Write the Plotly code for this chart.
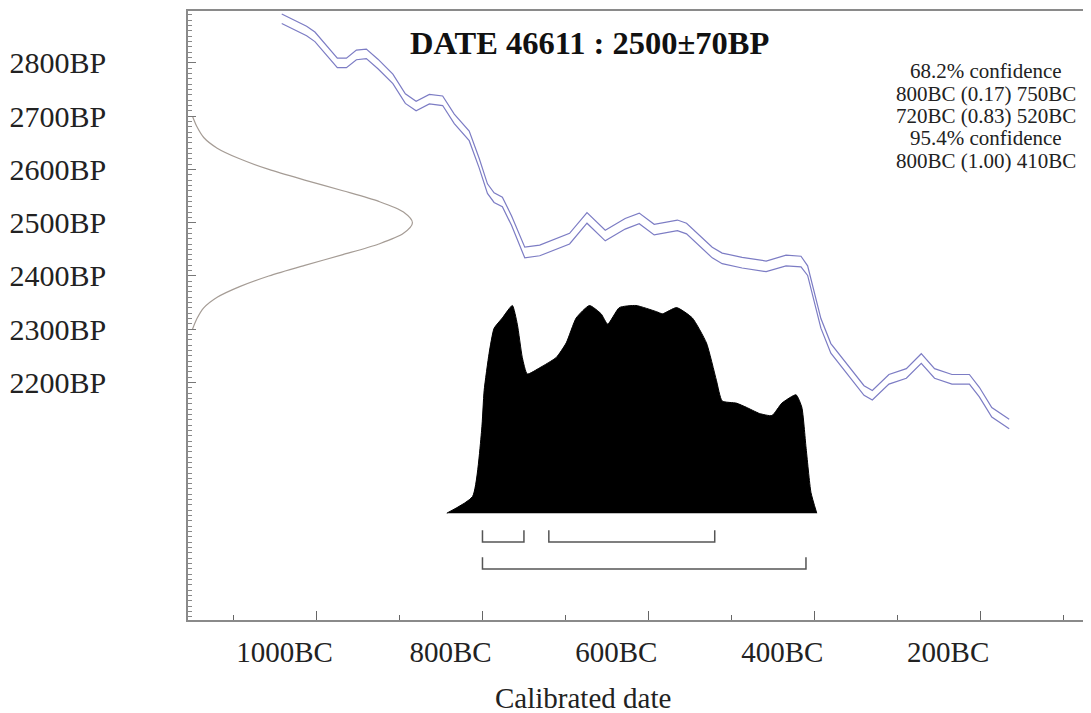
import plotly.graph_objects as go

# calibration curve (IntCal section), years BC and radiocarbon age BP with 1-sigma
cal_years_bc = [1042, 1012, 1002, 975, 964, 952, 940, 926, 908, 893, 880, 864, 848, 834,
                816, 804, 794, 786, 776, 765, 749, 731, 695, 674, 652, 628, 611, 593,
                565, 554, 523, 511, 487, 458, 434, 416, 408, 402, 392, 380, 364, 340,
                330, 310, 289, 271, 255, 234, 213, 201, 186, 165]
cal_bp = [2883, 2860, 2849, 2800, 2800, 2815, 2817, 2798, 2770, 2733, 2719, 2732, 2729, 2695,
          2663, 2612, 2564, 2547, 2539, 2504, 2444, 2448, 2470, 2509, 2476, 2498, 2508, 2487,
          2495, 2489, 2444, 2433, 2425, 2418, 2429, 2427, 2410, 2373, 2311, 2264, 2232, 2185,
          2176, 2206, 2217, 2245, 2217, 2206, 2206, 2182, 2144, 2122]
cal_err = [9, 9, 9, 9, 9, 9, 9, 9, 9, 9, 9, 9, 9, 9,
           9, 9, 9, 9, 9, 9, 10, 10, 10, 10, 10, 10, 10, 10,
           10, 10, 10, 10, 10, 10, 10, 10, 9, 9, 9, 9, 9, 9,
           9, 9, 9, 9, 9, 9, 9, 9, 9, 9]

# measured date 2500 +/- 70 BP (relative probability)
gauss_bp = [2300, 2320, 2340, 2360, 2380, 2400, 2420, 2440, 2460, 2480, 2500,
            2520, 2540, 2560, 2580, 2600, 2620, 2640, 2660, 2680, 2700]
gauss_p = [0.02, 0.04, 0.07, 0.13, 0.23, 0.36, 0.52, 0.69, 0.85, 0.96, 1.0,
           0.96, 0.85, 0.69, 0.52, 0.36, 0.23, 0.13, 0.07, 0.04, 0.02]

# calibrated probability distribution
hist_years_bc = [843, 812, 801, 798, 792, 786, 776, 764, 758, 752, 746, 731, 711, 699, 687,
                 671, 657, 649, 635, 615, 590, 583, 566, 547, 530, 518, 511, 494, 482, 466,
                 451, 439, 422, 415, 410, 404, 397]
hist_prob = [0.0, 0.08, 0.40, 0.59, 0.77, 0.89, 0.94, 1.0, 0.91, 0.75, 0.67, 0.70, 0.75, 0.82, 0.94,
             1.0, 0.96, 0.91, 0.99, 1.0, 0.97, 0.96, 0.99, 0.94, 0.82, 0.64, 0.54, 0.53, 0.51, 0.48,
             0.47, 0.53, 0.57, 0.51, 0.32, 0.10, 0.0]

ranges_68 = [(800, 750), (720, 520)]
ranges_95 = [(800, 410)]

x_tick_years = [1000, 800, 600, 400, 200]
x_minor_years = [1100, 900, 700, 500, 300, 100]
y_tick_bp = [2200, 2300, 2400, 2500, 2600, 2700, 2800]

conf_lines = ["68.2% confidence", "800BC (0.17) 750BC", "720BC (0.83) 520BC",
              "95.4% confidence", "800BC (1.00) 410BC"]

SERIF = "Liberation Serif, Times New Roman, serif"
curve_col = "#7c7cc4"

fig = go.Figure()

# calibration curve: upper and lower bands
fig.add_trace(go.Scatter(x=[-y for y in cal_years_bc], y=[b + e for b, e in zip(cal_bp, cal_err)],
                         mode="lines", line=dict(color=curve_col, width=1.2)))
fig.add_trace(go.Scatter(x=[-y for y in cal_years_bc], y=[b - e for b, e in zip(cal_bp, cal_err)],
                         mode="lines", line=dict(color=curve_col, width=1.2)))

# radiocarbon date distribution on the left
fig.add_trace(go.Scatter(x=gauss_p, y=gauss_bp, xaxis="x2", yaxis="y", mode="lines",
                         line=dict(color="#a59c95", width=1.2, shape="spline", smoothing=0.8)))

# calibrated distribution
fig.add_trace(go.Scatter(x=[-y for y in hist_years_bc], y=hist_prob, xaxis="x", yaxis="y2",
                         mode="lines", fill="tozeroy", fillcolor="black",
                         line=dict(color="black", width=1, shape="spline", smoothing=0.5)))

# range brackets
def bracket(start, end, top, bottom):
    return go.Scatter(x=[-start, -start, -end, -end], y=[top, bottom, bottom, top],
                      xaxis="x", yaxis="y2", mode="lines",
                      line=dict(color="#555555", width=1.5))

for s, e in ranges_68:
    fig.add_trace(bracket(s, e, -0.082, -0.139))
for s, e in ranges_95:
    fig.add_trace(bracket(s, e, -0.212, -0.269))

# page body adds an 8px margin, so the figure is sized to fit the window
fig.update_layout(
    width=1083, height=705,
    margin=dict(l=180, r=1, t=2, b=93),
    paper_bgcolor="white", plot_bgcolor="white",
    showlegend=False,
    font=dict(family=SERIF, color="#222222"),
    xaxis=dict(
        range=[-1155, -70], showgrid=False, zeroline=False,
        showline=True, mirror=True, linecolor="#8a8a8a", linewidth=1.5,
        ticks="inside", ticklen=9, tickcolor="#666666",
        tickvals=[-y for y in x_tick_years], ticktext=[f"{y}BC" for y in x_tick_years],
        tickfont=dict(size=29, family=SERIF, color="#222222"),
        ticklabelshift=-32, ticklabelstandoff=5,
        minor=dict(tickvals=[-y for y in x_minor_years], ticks="inside", ticklen=5,
                   tickcolor="#666666", showgrid=False),
    ),
    yaxis=dict(
        range=[1754, 2897.5], showgrid=False, zeroline=False,
        showline=True, mirror=True, linecolor="#8a8a8a", linewidth=1.5,
        ticks="inside", ticklen=8, tickcolor="#777777",
        tickvals=y_tick_bp, ticktext=[f"{b}BP" for b in y_tick_bp],
        tickfont=dict(size=30, family=SERIF, color="#222222"),
        ticklabelstandoff=74,
        minor=dict(dtick=10, tick0=0, ticks="inside", ticklen=4,
                   tickcolor="#888888", showgrid=False),
    ),
    xaxis2=dict(overlaying="x", range=[0, 4.01], visible=False),
    yaxis2=dict(overlaying="y", range=[-0.5144, 2.418], visible=False),
)

fig.add_annotation(text="<b>DATE 46611 : 2500±70BP</b>", xref="paper", yref="paper",
                   x=0.4457, y=0.9475, xanchor="center", yanchor="middle", showarrow=False,
                   font=dict(size=32.5, family=SERIF, color="#111111"))

line_y = [70, 93, 115, 137, 160]
for txt, py in zip(conf_lines, line_y):
    fig.add_annotation(text=txt, xref="paper", yref="paper",
                       x=(988 - 188) / 902, y=(620 - py) / 610,
                       xanchor="center", yanchor="middle", showarrow=False,
                       font=dict(size=21, family=SERIF, color="#222222"))

fig.add_annotation(text="Calibrated date", xref="paper", yref="paper",
                   x=(584 - 188) / 902, y=(620 - 698) / 610,
                   xanchor="center", yanchor="middle", showarrow=False,
                   font=dict(size=29, family=SERIF, color="#222222"))

fig.write_html("out.html")
